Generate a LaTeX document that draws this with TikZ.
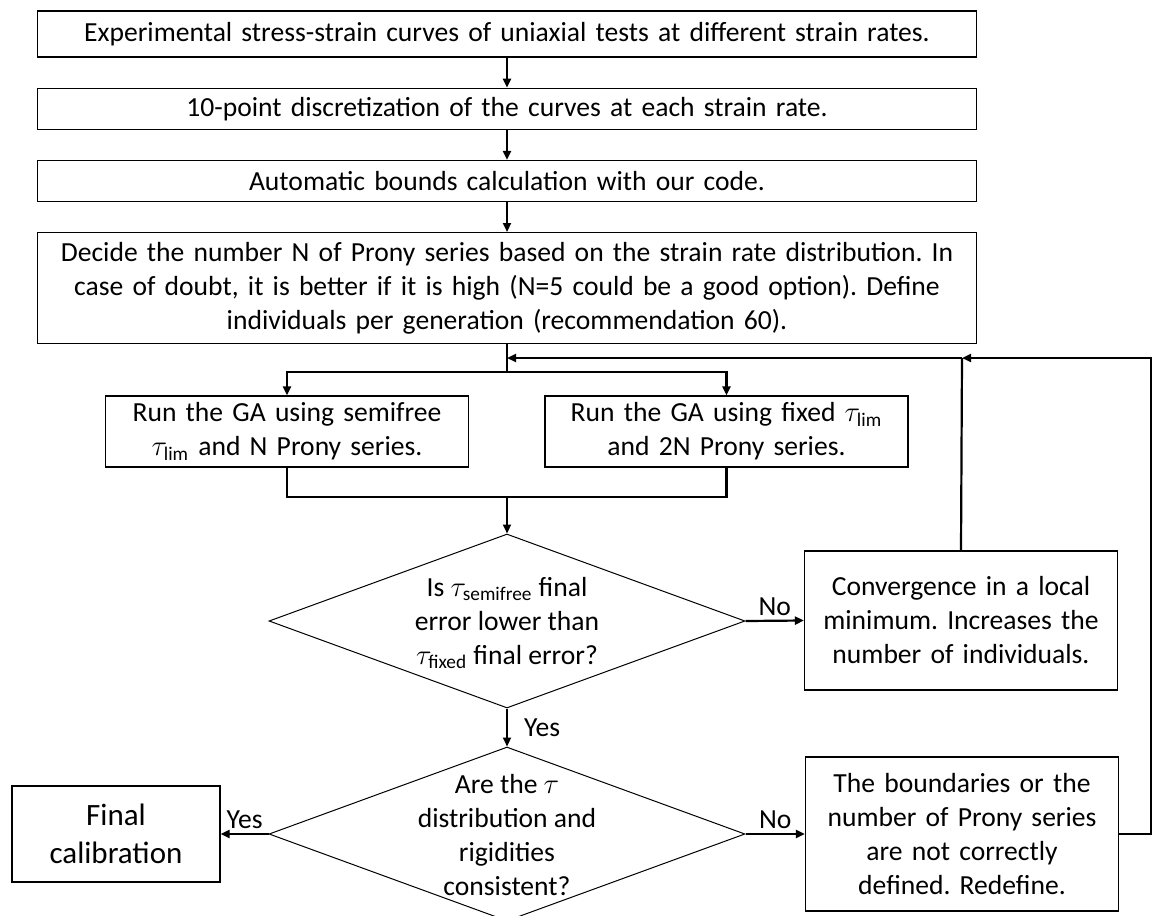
\documentclass[tikz,border=0pt]{standalone}
\usepackage{amsmath}
\usepackage{fontspec}
\setmainfont{Carlito}
\frenchspacing
\usetikzlibrary{positioning}
\usetikzlibrary{arrows.meta}
\usetikzlibrary{shapes.geometric}
\tikzset{
        stepnode/.style={draw, line width=0.6pt, align=center, inner sep=0pt, font=\fontsize{13.8}{17}\selectfont},
        % Full-width steps
        node_wide/.style={stepnode, text width=469.5pt},
        % Parallel GA runs
        node_run/.style={stepnode, text width=181.5pt, minimum height=35.5pt},
        % Side boxes
        node_side/.style={stepnode, text width=156.5pt},
        % Decisions (text is set on top of the empty diamond)
        node_decision/.style={diamond, draw, line width=0.5pt, inner sep=0pt, minimum width=238pt, minimum height=87pt},
        node_question/.style={align=center, inner sep=0pt, font=\fontsize{13.8}{17}\selectfont},
        % Yes / No labels
        node_answer/.style={inner sep=1pt, font=\fontsize{13.8}{17}\selectfont}
}
\begin{document}
\begin{tikzpicture}[
            ->,
            >={Triangle[length=4.5pt,width=4pt]},
            line width=1.1pt,
            x=0.5pt, y=-0.5pt
        ]
            \useasboundingbox (0,0) rectangle (1152,916);
            \node[node_wide, minimum height=23pt] (exp) at (507,34) {Experimental stress-strain curves of uniaxial tests at different strain rates.};
            \node[node_wide, minimum height=20.5pt, below=15pt of exp] (disc) {10-point discretization of the curves at each strain rate.};
            \node[node_wide, minimum height=20.5pt, below=15pt of disc] (bounds) {Automatic bounds calculation with our code.};
            \node[node_wide, minimum height=55.5pt, below=15pt of bounds] (prony) {Decide the number N of Prony series based on the strain rate distribution. In\\ case of doubt, it is better if it is high (N=5 could be a good option). Define\\ individuals per generation (recommendation 60).};

            \coordinate (c0) at (507,358);
            \coordinate (c1) at (962,358);
            \coordinate (split) at (507,372);
            \coordinate (merge) at (507,497);

            \node[node_run] (semi) at (287,431.5) {Run the GA using semifree\\ $\tau_{\text{lim}}$ and N Prony series.};
            \node[node_run] (fixed) at (726.5,431.5) {Run the GA using fixed $\tau_{\text{lim}}$\\ and 2N Prony series.};

            \node[node_decision] (isless) at (507,621) {};
            \node[node_question] (isless_text) at (507,623) {Is $\tau_{\text{semifree}}$ final\\ error lower than\\ $\tau_{\text{fixed}}$ final error?};
            \node[node_side, minimum height=69.5pt] (conv) at (961,620.5) {Convergence in a local\\ minimum. Increases the\\ number of individuals.};

            \node[node_decision] (consist) at (507,834) {};
            \node[node_question] (consist_text) at (507,835) {Are the $\tau$\\ distribution and\\ rigidities\\ consistent?};
            \node[stepnode, text width=104pt, minimum height=48pt, font=\fontsize{15.5}{19}\selectfont] (final) at (116,834) {Final\\ calibration};
            \node[node_side, minimum height=77pt] (redef) at (962,834) {The boundaries or the\\ number of Prony series\\ are not correctly\\ defined. Redefine.};

            \draw (exp) -- (disc);
            \draw (disc) -- (bounds);
            \draw (bounds) -- (prony);
            \draw[-] (prony.south) -- (split);
            \draw (split) -| (semi.north);
            \draw (split) -| (fixed.north);
            \draw[-] (semi.south) |- (merge) -| (fixed.south);
            \draw (merge) -- (isless.north);

            \draw (isless.east) -- node[node_answer, above=1pt] {No} (conv.west);
            \draw (isless.south) -- node[node_answer, right=7pt] {Yes} (consist.north);
            \draw (consist.west) -- node[node_answer, above=1pt] {Yes} (final.east);
            \draw (consist.east) -- node[node_answer, above=1pt] {No} (redef.west);

            % loop back
            \draw (redef.east) -- ++(16pt,0) |- (c1);
            \draw[-] (conv.north) -- (c1);
            \draw (c1) -- (c0);
        \end{tikzpicture}
\end{document}
